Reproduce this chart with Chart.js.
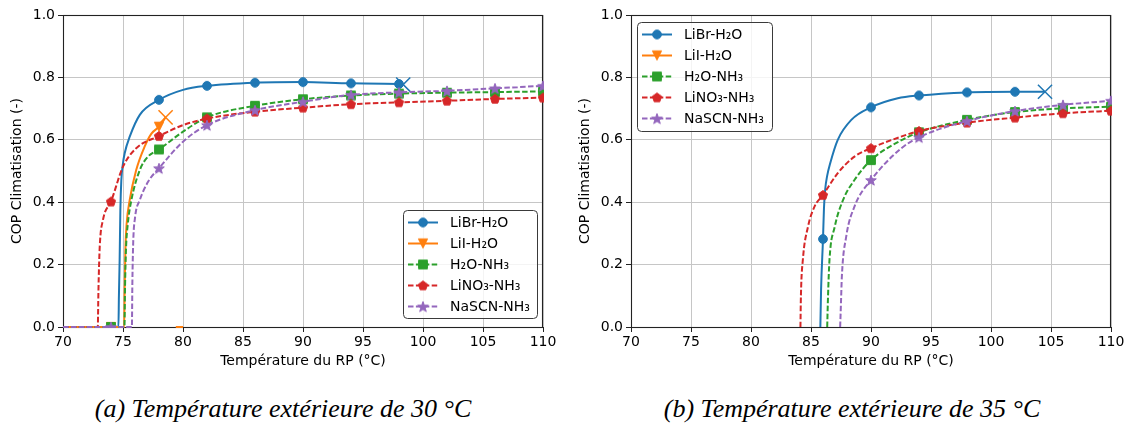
<!DOCTYPE html>
<html><head><meta charset="utf-8">
<script src="https://cdn.jsdelivr.net/npm/chart.js@4"></script>
<style>
body{margin:0;background:#fff;width:1129px;height:425px;overflow:hidden;position:relative;}
.pane{position:absolute;top:0;height:380px;}
#p1{left:0;width:560px}
#p2{left:560px;width:569px}
.cap{position:absolute;top:395px;height:28px;line-height:28px;font-family:'Liberation Serif','DejaVu Serif',serif;font-style:italic;font-size:26px;color:#000;white-space:nowrap;}
</style></head>
<body>
<div class="pane" id="p1"><canvas id="c1"></canvas></div>
<div class="pane" id="p2"><canvas id="c2"></canvas></div>
<div class="cap" id="cap1" style="left:0;width:566px;text-align:center">(a) Température extérieure de 30 °C</div>
<div class="cap" id="cap2" style="left:566px;width:572px;text-align:center">(b) Température extérieure de 35 °C</div>
<script>
// ---------- shared labels ----------
const seriesNames = ['LiBr-H₂O', 'LiI-H₂O', 'H₂O-NH₃', 'LiNO₃-NH₃', 'NaSCN-NH₃'];
const seriesColors = ['#1f77b4', '#ff7f0e', '#2ca02c', '#d62728', '#9467bd'];
const markerT = [74, 78, 82, 86, 90, 94, 98, 102, 106, 110];
const xTicks = [70, 75, 80, 85, 90, 95, 100, 105, 110];
const yTicks = [0.0, 0.2, 0.4, 0.6, 0.8, 1.0];
const xTitle = 'Température du RP (°C)';
const yTitle = 'COP Climatisation (-)';

// ---------- (a) 30 °C ----------
const libr30_T   = [70, 74, 74.62, 74.66, 74.72, 74.78, 74.86, 74.98, 75.14, 75.56, 76.4, 78, 80, 82, 86, 90, 94, 98, 98.35];
const libr30_COP = [0, 0, 0, 0.10, 0.215, 0.375, 0.47, 0.52, 0.557, 0.61, 0.68, 0.728, 0.76, 0.773, 0.783, 0.785, 0.781, 0.779, 0.777];
const lii30_T    = [70, 74, 75.1, 75.14, 75.2, 75.3, 75.56, 76.1, 76.8, 77.37, 78, 78.55, 79, 79.4, 80];
const lii30_COP  = [0, 0, 0, 0.13, 0.25, 0.33, 0.407, 0.503, 0.578, 0.62, 0.642, 0.672, null, 0, 0];
const h2o30_T    = [70, 74, 75.12, 75.17, 75.25, 75.4, 75.7, 76.4, 77.08, 78, 80, 82, 86, 90, 94, 98, 102, 106, 110];
const h2o30_COP  = [0, 0, 0, 0.13, 0.25, 0.33, 0.407, 0.503, 0.546, 0.569, 0.626, 0.672, 0.709, 0.73, 0.742, 0.748, 0.751, 0.753, 0.755];
const lino30_T   = [70, 72.9, 72.94, 72.98, 73.06, 73.33, 74, 75, 76.1, 78, 80, 82, 86, 90, 94, 98, 102, 106, 110];
const lino30_COP = [0, 0, 0.09, 0.161, 0.257, 0.343, 0.402, 0.514, 0.573, 0.612, 0.647, 0.668, 0.690, 0.703, 0.714, 0.72, 0.725, 0.731, 0.735];
const nascn30_T  = [70, 74, 75.74, 75.78, 75.85, 76.0, 76.4, 77.1, 78, 80, 82, 86, 90, 94, 98, 102, 106, 110];
const nascn30_COP= [0, 0, 0, 0.14, 0.27, 0.35, 0.407, 0.466, 0.509, 0.594, 0.647, 0.695, 0.722, 0.744, 0.752, 0.757, 0.765, 0.773];
const end30 = [98.35, 78.55, null, null, null];

// ---------- (b) 35 °C ----------
const libr35_T   = [85.78, 85.84, 86, 86.08, 86.18, 86.35, 86.6, 87.23, 88.34, 90, 92.23, 94, 98, 102, 104.5];
const libr35_COP = [0, 0.12, 0.282, 0.38, 0.44, 0.485, 0.525, 0.6, 0.663, 0.704, 0.733, 0.742, 0.752, 0.754, 0.754];
const lii35_T    = [];
const lii35_COP  = [];
const h2o35_T    = [86.35, 86.42, 86.54, 86.97, 87.67, 88.62, 90, 92.5, 94, 98, 102, 106, 110];
const h2o35_COP  = [0, 0.1, 0.215, 0.32, 0.407, 0.471, 0.535, 0.598, 0.624, 0.664, 0.689, 0.701, 0.706];
const lino35_T   = [84.12, 84.16, 84.32, 84.74, 85.29, 86, 87.23, 88.62, 90, 92.5, 94, 98, 102, 106, 110];
const lino35_COP = [0, 0.1, 0.215, 0.32, 0.386, 0.423, 0.493, 0.546, 0.573, 0.61, 0.628, 0.655, 0.671, 0.685, 0.693];
const nascn35_T  = [87.43, 87.5, 87.57, 87.93, 88.62, 90, 92.5, 94, 98, 102, 106, 110];
const nascn35_COP= [0, 0.08, 0.161, 0.289, 0.386, 0.471, 0.572, 0.608, 0.66, 0.692, 0.712, 0.725];
const end35 = [104.5, null, null, null, null];

// ---------- marker images ----------
const markerShapes = ['circle', 'tridown', 'square', 'pentagon', 'star'];
function makeMarker(shape, color) {
  const c = document.createElement('canvas');
  c.width = 14; c.height = 14;
  const g = c.getContext('2d');
  g.fillStyle = color; g.strokeStyle = color; g.lineWidth = 1;
  g.translate(7, 7);
  g.beginPath();
  if (shape === 'circle') { g.arc(0, 0, 4.4, 0, Math.PI * 2); }
  else if (shape === 'square') { g.rect(-4.4, -4.4, 8.8, 8.8); }
  else if (shape === 'tridown') { g.moveTo(0, 4.6); g.lineTo(-4.6, -4.6); g.lineTo(4.6, -4.6); g.closePath(); }
  else if (shape === 'pentagon') {
    for (let k = 0; k < 5; k++) { const a = -Math.PI / 2 + k * 2 * Math.PI / 5; const px = 4.8 * Math.cos(a), py = 4.8 * Math.sin(a) + 0.3; k ? g.lineTo(px, py) : g.moveTo(px, py); }
    g.closePath();
  } else if (shape === 'star') {
    for (let k = 0; k < 10; k++) { const a = -Math.PI / 2 + k * Math.PI / 5; const r = k % 2 ? 2.3 : 5.6; const px = r * Math.cos(a), py = r * Math.sin(a) + 0.6; k ? g.lineTo(px, py) : g.moveTo(px, py); }
    g.closePath();
  }
  g.fill(); g.stroke();
  return c;
}
const markerImgs = markerShapes.map((s, i) => makeMarker(s, seriesColors[i]));

function mkDataset(i, T, V, endT) {
  return {
    label: seriesNames[i],
    data: T.map((t, k) => ({ x: t, y: V[k] })),
    borderColor: seriesColors[i],
    backgroundColor: seriesColors[i],
    borderWidth: 2,
    borderDash: (i >= 2) ? [5.5, 2.4] : [],
    cubicInterpolationMode: 'monotone',
    spanGaps: false,
    order: 10 - i,
    clip: 1,
    pointRadius: ctx => { const r = ctx.raw; if (!r || r.y === null) return 0; if (endT !== null && r.x === endT) return 10; return markerT.includes(r.x) ? 5 : 0; },
    pointStyle: ctx => { const r = ctx.raw; return (r && endT !== null && r.x === endT) ? 'crossRot' : markerImgs[i]; },
    pointBorderColor: seriesColors[i],
    pointBackgroundColor: seriesColors[i],
    pointBorderWidth: 1.5,
    pointHoverRadius: 0
  };
}

const spinePlugin = {
  id: 'spines',
  beforeDatasetsDraw(chart) {
    const { ctx, chartArea: a } = chart;
    ctx.save();
    ctx.strokeStyle = '#222'; ctx.lineWidth = 1.1; ctx.setLineDash([]);
    ctx.strokeRect(Math.round(a.left) + 0.5, Math.round(a.top) + 0.5, Math.round(a.right - a.left) - 1, Math.round(a.bottom - a.top));
    ctx.restore();
  }
};

const legendPlugin = {
  id: 'mplLegend',
  afterDraw(chart, args, o) {
    const ctx = chart.ctx;
    const { x, y, w, h } = o;
    ctx.save();
    ctx.beginPath();
    if (ctx.roundRect) ctx.roundRect(x + 0.5, y + 0.5, w, h, 4); else ctx.rect(x + 0.5, y + 0.5, w, h);
    ctx.fillStyle = 'rgba(255,255,255,0.8)';
    ctx.fill();
    ctx.strokeStyle = '#3a3a3a'; ctx.lineWidth = 1; ctx.stroke();
    for (let i = 0; i < seriesNames.length; i++) {
      const ry = y + 12.5 + i * 21;
      ctx.beginPath();
      ctx.strokeStyle = seriesColors[i]; ctx.lineWidth = 2;
      ctx.setLineDash(i >= 2 ? [5.5, 2.4] : []);
      ctx.moveTo(x + 5, ry); ctx.lineTo(x + 35, ry); ctx.stroke();
      ctx.setLineDash([]);
      const m = markerImgs[i];
      ctx.drawImage(m, x + 20 - m.width / 2, ry - m.height / 2);
      ctx.fillStyle = '#000';
      ctx.font = '14px "DejaVu Sans"';
      ctx.textBaseline = 'middle';
      ctx.fillText(seriesNames[i], x + 47, ry + 0.5);
    }
    ctx.restore();
  }
};

function makeChart(id, datasets, yWidth, padRight, yTitlePad, legendBox) {
  const font = { family: 'DejaVu Sans', size: 14 };
  return new Chart(document.getElementById(id), {
    type: 'line',
    data: { datasets },
    plugins: [spinePlugin, legendPlugin],
    options: {
      responsive: true, maintainAspectRatio: false, animation: false, events: [],
      layout: { padding: { top: 15, right: padRight, left: 0, bottom: 0 } },
      plugins: { legend: { display: false }, tooltip: { enabled: false }, mplLegend: legendBox },
      scales: {
        x: {
          type: 'linear', min: 70, max: 110,
          afterBuildTicks: s => { s.ticks = xTicks.map(v => ({ value: v })); },
          afterFit: s => { s.height = 53; },
          ticks: { font, color: '#000', padding: 2, maxRotation: 0, autoSkip: false, callback: v => String(v) },
          grid: { color: '#c6c6c6', lineWidth: 1, tickLength: 5, tickColor: '#222', tickWidth: 1 },
          border: { display: false },
          title: { display: true, text: xTitle, font, color: '#000', padding: { top: 0, bottom: 10 } }
        },
        y: {
          type: 'linear', min: 0, max: 1,
          afterBuildTicks: s => { s.ticks = yTicks.map(v => ({ value: v })); },
          afterFit: s => { s.width = yWidth; },
          ticks: { font, color: '#000', padding: 3, autoSkip: false, callback: v => Number(v).toFixed(1) },
          grid: { color: '#c6c6c6', lineWidth: 1, tickLength: 5, tickColor: '#222', tickWidth: 1 },
          border: { display: false },
          title: { display: true, text: yTitle, font, color: '#000', padding: { top: yTitlePad, bottom: 0 } }
        }
      }
    }
  });
}

makeChart('c1', [
  mkDataset(0, libr30_T, libr30_COP, end30[0]),
  mkDataset(1, lii30_T, lii30_COP, end30[1]),
  mkDataset(2, h2o30_T, h2o30_COP, end30[2]),
  mkDataset(3, lino30_T, lino30_COP, end30[3]),
  mkDataset(4, nascn30_T, nascn30_COP, end30[4])
], 63, 17, 9, { x: 403, y: 210, w: 134, h: 108 });

makeChart('c2', [
  mkDataset(0, libr35_T, libr35_COP, end35[0]),
  mkDataset(1, lii35_T, lii35_COP, end35[1]),
  mkDataset(2, h2o35_T, h2o35_COP, end35[2]),
  mkDataset(3, lino35_T, lino35_COP, end35[3]),
  mkDataset(4, nascn35_T, nascn35_COP, end35[4])
], 71, 18, 17, { x: 77, y: 22, w: 135, h: 109 });
</script>
</body></html>
